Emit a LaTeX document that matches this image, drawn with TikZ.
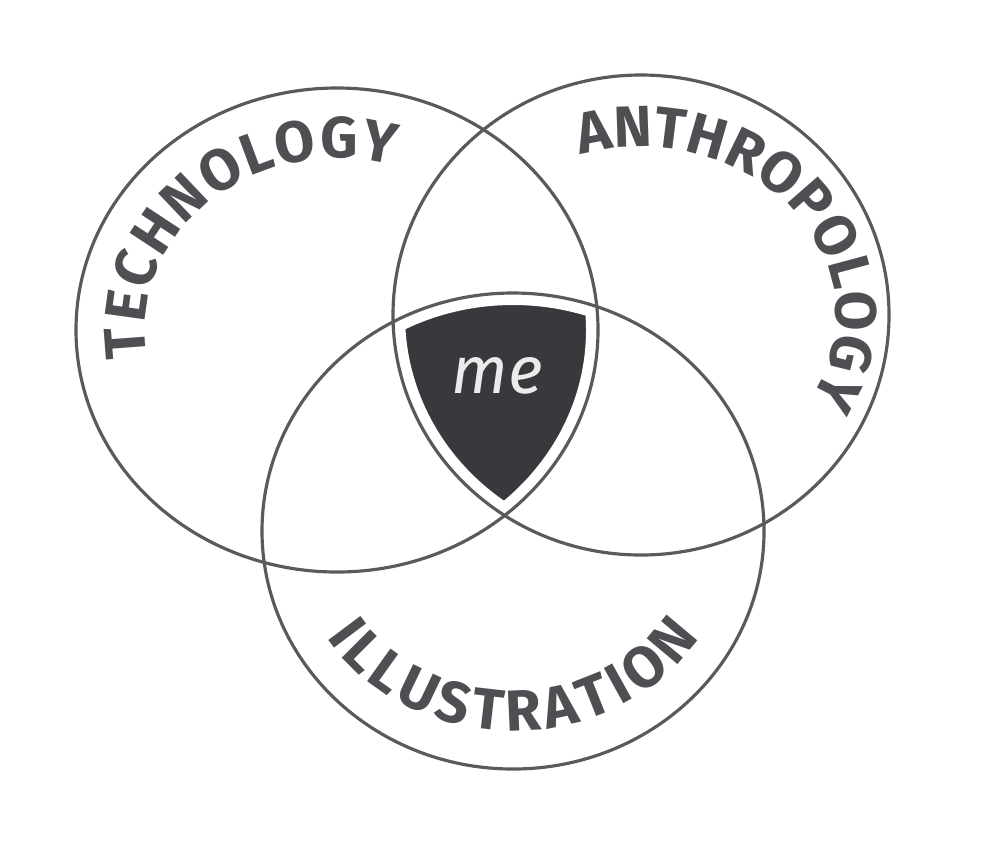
\documentclass[tikz,border=0pt]{standalone}
\usepackage{fontspec}
\setmainfont{Fira Sans}
\usepackage{xcolor}
\usetikzlibrary{decorations.text}

\definecolor{pencil}{HTML}{5A5A5C}
\definecolor{ink}{HTML}{4E4F52}
\definecolor{slate}{HTML}{38393C}

\begin{document}
\begin{tikzpicture}[
  ring/.style={draw=pencil, line width=0.9pt},
  gap/.style={draw=white, line width=0.24cm},
  arclabel/.style={decorate, decoration={text along path, text align={fit to path},
    text color=ink, text={|\fontsize{16.5}{20}\selectfont\bfseries|#1}}}
]
\useasboundingbox (0,0) rectangle (10,8.53);
\coordinate (tech) at (3.37,5.23);
\coordinate (anth) at (6.41,5.38);
\coordinate (illu) at (5.13,3.22);

% the common part
\begin{scope}
  \clip (tech) ellipse[x radius=2.61, y radius=2.42];
  \clip (anth) ellipse[x radius=2.48, y radius=2.40];
  \fill[slate] (illu) ellipse[x radius=2.51, y radius=2.38];
\end{scope}
\draw[gap] (tech) ellipse[x radius=2.61, y radius=2.42];
\draw[gap] (anth) ellipse[x radius=2.48, y radius=2.40];
\draw[gap] (illu) ellipse[x radius=2.51, y radius=2.38];

\draw[ring] (tech) ellipse[x radius=2.61, y radius=2.42];
\draw[ring] (anth) ellipse[x radius=2.48, y radius=2.40];
\draw[ring] (illu) ellipse[x radius=2.51, y radius=2.38];

% labels
\path[arclabel=TECHNOLOGY] (tech) ++(189:1.92cm and 1.72cm)
  arc[start angle=189, end angle=73, x radius=1.92, y radius=1.72];
\path[arclabel=ANTHROPOLOGY] (anth) ++(108:1.95cm and 1.68cm)
  arc[start angle=108, end angle=-26, x radius=1.95, y radius=1.68];
\path[arclabel=ILLUSTRATION] (illu) ++(212:2.2cm and 2.0cm)
  arc[start angle=212, end angle=328, x radius=2.2, y radius=2.0];

\node[text=white!92!black, font=\fontsize{19}{22}\selectfont\itshape] (me) at (4.97,4.77) {me};
\end{tikzpicture}
\end{document}
